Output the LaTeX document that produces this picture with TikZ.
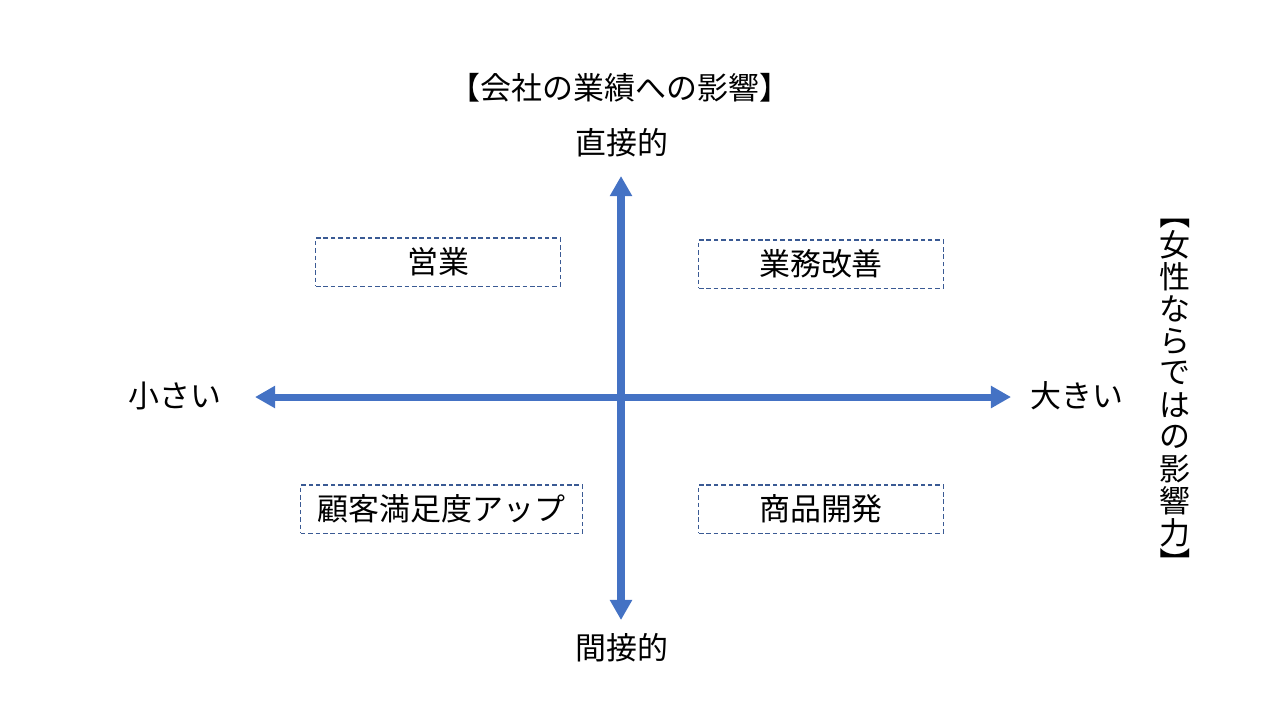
\documentclass[tikz,border=0pt]{standalone}
\usepackage{fontspec}
\setmainfont{Noto Sans CJK JP}
\usetikzlibrary{positioning,arrows.meta}
\definecolor{axisblue}{HTML}{4472C4}
\definecolor{boxline}{HTML}{3A5A94}
\newcommand{\jsize}{\fontsize{8.8}{8.8}\selectfont}

\begin{document}
\begin{tikzpicture}[x=0.01cm,y=-0.01cm,
  lbl/.style={font=\jsize,inner sep=0pt},
  area/.style={draw=boxline,line width=0.3pt,dash pattern=on 1.3pt off 0.8pt,
    minimum height=0.48cm,font=\jsize,inner sep=0pt},
  axis/.style={axisblue,line width=2pt,-{Triangle[length=5.7pt,width=6pt]}}]
\useasboundingbox (0,0) rectangle (1280,720);
% titles
\node[lbl] (title) at (620,88) {【会社の業績への影響】};
\node[lbl] (top) at (622,143) {直接的};
\node[lbl] (bottom) at (622,648) {間接的};
\node[lbl] (left) at (175,396) {小さい};
\node[lbl] (right) at (1077,396) {大きい};
% vertical label, one character per row, brackets turned
\node[lbl,rotate=-90] (sideopen) at (1175,214) {【};
\foreach \ch [count=\i] in {女,性,な,ら,で,は,の,影,響,力}
  \node[lbl] (side\i) at (1175,{245+32*(\i-1)}) {\ch};
\node[lbl,rotate=-90] (sideclose) at (1175,563) {】};
% axes
\coordinate (ntip) at (621,176);
\coordinate (stip) at (621,620);
\coordinate (wtip) at (255,397);
\coordinate (etip) at (1011,397);
\coordinate (mid) at (621,397);
\draw[axis] (mid) -- (ntip);
\draw[axis] (mid) -- (stip);
\draw[axis] (mid) -- (wtip);
\draw[axis] (mid) -- (etip);
% quadrant boxes
\node[area,minimum width=2.44cm] (sales) at (438,262) {営業};
\node[area,minimum width=2.44cm] (kaizen) at (821,264) {業務改善};
\node[area,minimum width=2.81cm] (cs) at (441.5,509) {顧客満足度アップ};
\node[area,minimum width=2.44cm] (dev) at (821,509) {商品開発};
\end{tikzpicture}
\end{document}
